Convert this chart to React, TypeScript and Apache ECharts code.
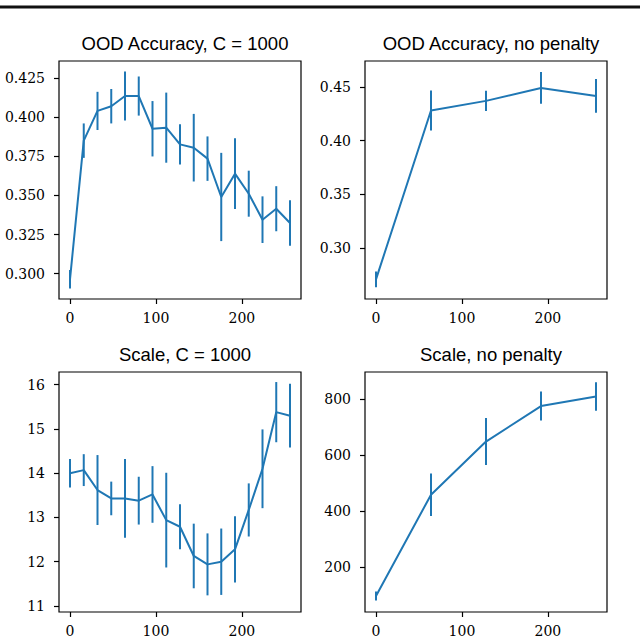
import React, { useEffect, useRef } from 'react';
import * as echarts from 'echarts';

// step counts on the x axis
const xFine = [0, 16, 32, 48, 64, 80, 96, 112, 128, 144, 160, 176, 192, 208, 224, 240, 256];
const xCoarse = [0, 64, 128, 192, 256];

// OOD accuracy with penalty C = 1000
const accPenalty = [0.2964, 0.385, 0.404, 0.407, 0.4135, 0.4135, 0.3926, 0.3933, 0.3826, 0.3805, 0.3735, 0.349, 0.3639, 0.3511, 0.3345, 0.3415, 0.3324];
const accPenaltyErr = [0.0059, 0.011, 0.0122, 0.011, 0.0157, 0.0125, 0.0177, 0.0224, 0.0129, 0.0216, 0.0142, 0.0282, 0.0226, 0.0147, 0.0149, 0.0144, 0.0145];

// OOD accuracy without penalty
const accNoPenalty = [0.2705, 0.428, 0.437, 0.4491, 0.4416];
const accNoPenaltyErr = [0.0073, 0.0187, 0.0094, 0.0148, 0.0157];

// scale with penalty C = 1000
const scalePenalty = [14.0, 14.07, 13.62, 13.43, 13.43, 13.38, 13.52, 12.94, 12.79, 12.13, 11.94, 12.0, 12.28, 13.17, 14.1, 15.38, 15.3];
const scalePenaltyErr = [0.32, 0.36, 0.79, 0.38, 0.89, 0.54, 0.64, 1.07, 0.51, 0.73, 0.7, 0.75, 0.75, 0.6, 0.89, 0.68, 0.72];

// scale without penalty
const scaleNoPenalty = [96, 458, 648, 775, 809];
const scaleNoPenaltyErr = [16, 76, 84, 52, 51];

const titles = ['OOD Accuracy, C = 1000', 'OOD Accuracy, no penalty', 'Scale, C = 1000', 'Scale, no penalty'];
const xTicks = [0, 100, 200];
const yTicksAccPenalty = [0.3, 0.325, 0.35, 0.375, 0.4, 0.425];
const yTicksAccNoPenalty = [0.3, 0.35, 0.4, 0.45];
const yTicksScalePenalty = [11, 12, 13, 14, 15, 16];
const yTicksScaleNoPenalty = [200, 400, 600, 800];

const BLUE = '#1f77b4';
const TICK_FONT = { fontFamily: '"DejaVu Serif", "Liberation Serif", serif', fontSize: 14, color: '#000' };

const grids = [
  { left: 59, top: 61, width: 242, height: 238 },
  { left: 365, top: 61, width: 242, height: 238 },
  { left: 59, top: 372, width: 242, height: 240 },
  { left: 365, top: 372, width: 242, height: 240 },
];

const makeX = (i: number) => ({
  type: 'value',
  gridIndex: i,
  min: -12.8,
  max: 268.8,
  splitLine: { show: false },
  axisLine: { show: false, onZero: false },
  axisTick: { show: true, length: 5, customValues: xTicks, lineStyle: { color: '#000', width: 1.2 } },
  axisLabel: { ...TICK_FONT, margin: 12, customValues: xTicks, formatter: (v: number) => String(v) },
});

const makeY = (i: number, min: number, max: number, ticks: number[], digits: number) => ({
  type: 'value',
  gridIndex: i,
  min,
  max,
  splitLine: { show: false },
  axisLine: { show: false, onZero: false },
  axisTick: { show: true, length: 5, customValues: ticks, lineStyle: { color: '#000', width: 1.2 } },
  axisLabel: { ...TICK_FONT, margin: 14, customValues: ticks, formatter: (v: number) => v.toFixed(digits) },
});

const lineSeries = (i: number, xs: number[], ys: number[]) => ({
  type: 'line',
  xAxisIndex: i,
  yAxisIndex: i,
  data: xs.map((x, k) => [x, ys[k]]),
  showSymbol: false,
  lineStyle: { color: BLUE, width: 2 },
  itemStyle: { color: BLUE },
});

const errSeries = (i: number, xs: number[], ys: number[], err: number[]) => ({
  type: 'custom',
  xAxisIndex: i,
  yAxisIndex: i,
  data: xs.map((x, k) => [x, ys[k] - err[k], ys[k] + err[k]]),
  encode: { x: 0, y: [1, 2] },
  renderItem: (_params: any, api: any) => {
    const lo = api.coord([api.value(0), api.value(1)]);
    const hi = api.coord([api.value(0), api.value(2)]);
    return {
      type: 'line',
      shape: { x1: lo[0], y1: lo[1], x2: hi[0], y2: hi[1] },
      style: { stroke: BLUE, lineWidth: 2 },
    };
  },
});

export default function App() {
  const chartRef = useRef<HTMLDivElement>(null);

  useEffect(() => {
    if (!chartRef.current) return;
    const chart = echarts.init(chartRef.current, undefined, { renderer: 'svg' });

    const option = {
      animation: false,
      backgroundColor: '#fff',
      title: titles.map((t, i) => ({
        text: t,
        left: grids[i].left + grids[i].width / 2,
        top: grids[i].top - 32,
        textAlign: 'center',
        textStyle: { fontFamily: 'Liberation Sans', fontSize: 18.5, fontWeight: 'normal', color: '#000' },
      })),
      grid: grids.map((g) => ({ ...g, show: true, borderColor: '#000', borderWidth: 1.2, backgroundColor: 'transparent' })),
      xAxis: [makeX(0), makeX(1), makeX(2), makeX(3)],
      yAxis: [
        makeY(0, 0.2838, 0.4359, yTicksAccPenalty, 3),
        makeY(1, 0.2522, 0.4742, yTicksAccNoPenalty, 2),
        makeY(2, 10.864, 16.287, yTicksScalePenalty, 0),
        makeY(3, 38.7, 896.8, yTicksScaleNoPenalty, 0),
      ],
      graphic: [
        {
          type: 'line',
          shape: { x1: 0, y1: 7, x2: 640, y2: 7 },
          style: { stroke: '#111', lineWidth: 3 },
        },
      ],
      series: [
        lineSeries(0, xFine, accPenalty),
        errSeries(0, xFine, accPenalty, accPenaltyErr),
        lineSeries(1, xCoarse, accNoPenalty),
        errSeries(1, xCoarse, accNoPenalty, accNoPenaltyErr),
        lineSeries(2, xFine, scalePenalty),
        errSeries(2, xFine, scalePenalty, scalePenaltyErr),
        lineSeries(3, xCoarse, scaleNoPenalty),
        errSeries(3, xCoarse, scaleNoPenalty, scaleNoPenaltyErr),
      ],
    };

    chart.setOption(option);

    return () => {
      chart.dispose();
    };
  }, []);

  return (
    <div
      ref={chartRef}
      style={{ position: 'absolute', left: 0, top: 0, width: 640, height: 638 }}
    />
  );
}
